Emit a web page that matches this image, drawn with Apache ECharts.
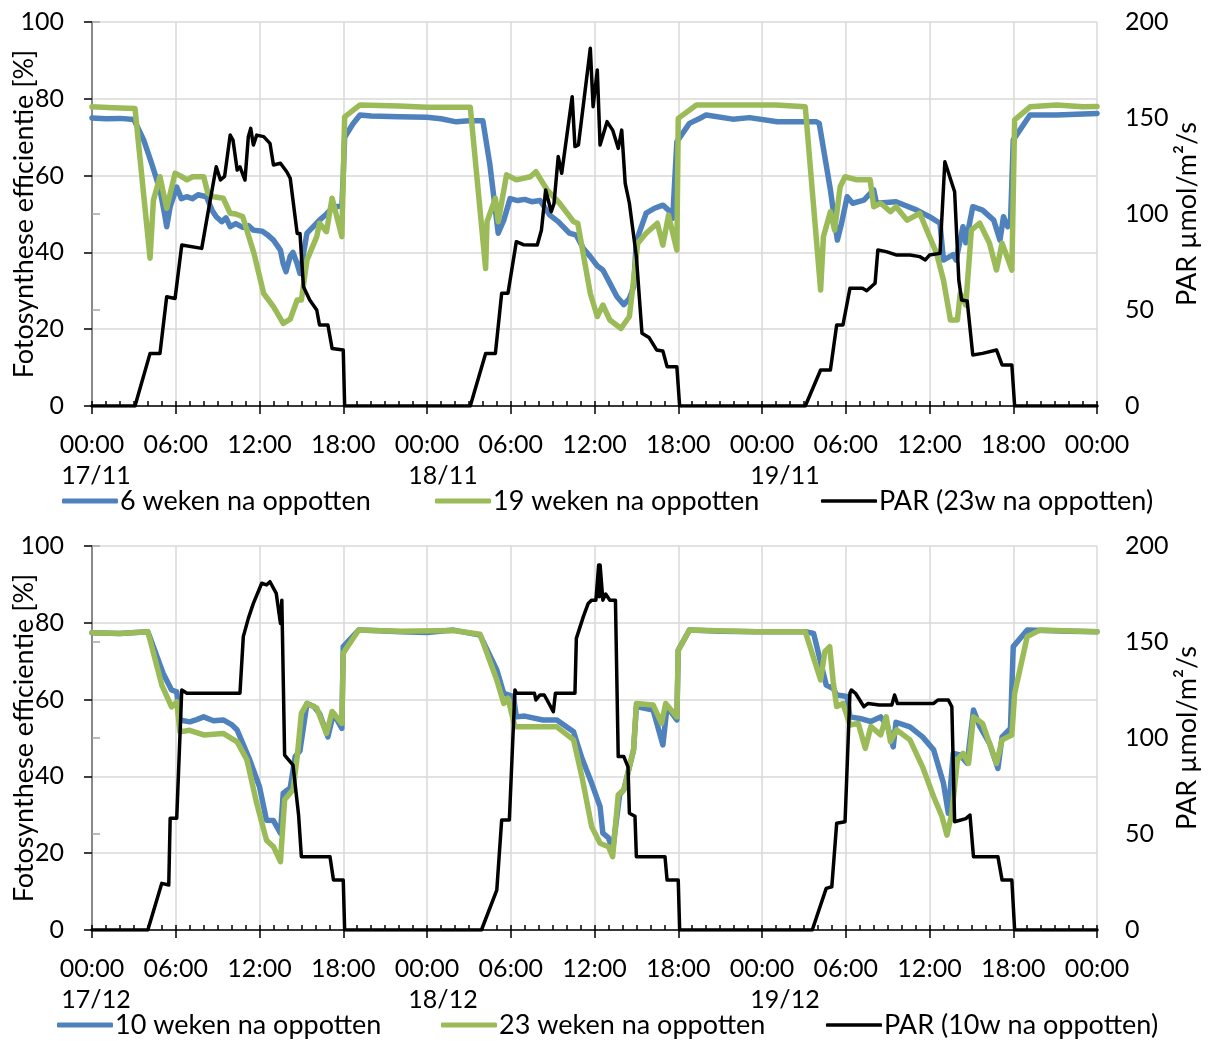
<!DOCTYPE html>
<html><head><meta charset="utf-8">
<script src="https://cdn.jsdelivr.net/npm/echarts@6/dist/echarts.min.js"></script>
<style>html,body{margin:0;padding:0;background:#fff}#c{width:1211px;height:1041px}</style>
</head><body><div id="c"></div><script>
// ---- tick labels ----
const hourTicks = ['00:00', '06:00', '12:00', '18:00'];
const datesTop = ['17/11', '18/11', '19/11'];
const datesBottom = ['17/12', '18/12', '19/12'];
const leftAxisTitle = 'Fotosynthese efficientie [%]';
const rightAxisTitle = 'PAR µmol/m²/s';

// ---- series names ----
const namesTop = ['6 weken na oppotten', '19 weken na oppotten', 'PAR (23w na oppotten)'];
const namesBottom = ['10 weken na oppotten', '23 weken na oppotten', 'PAR (10w na oppotten)'];

// ---- data: [hour since 00:00 day 1, value] ----
const top6w = [[0,75],[1,74.8],[2,74.9],[3,74.6],[3.7,69.3],[4.27,63.2],[4.87,56.3],[5.2,50],[5.35,46.7],[5.6,51.9],[6.07,57],[6.4,54],[6.78,54.5],[7.2,54],[7.6,55],[8.2,54.5],[8.6,51],[8.9,49.3],[9.3,48],[9.6,49],[9.9,46.7],[10.3,47.5],[10.8,46.5],[11.2,47],[11.56,45.8],[12.2,45.5],[12.6,44.5],[13,43.2],[13.5,40.6],[13.7,37],[13.9,35],[14.2,39],[14.4,40],[14.7,37],[14.9,34.5],[15.4,45],[15.8,46.5],[16.3,48.4],[16.8,50],[17.3,51.9],[17.9,52],[18.0,60],[18.1,70],[18.7,73.5],[19.2,75.8],[20,75.5],[22,75.3],[24,75.2],[25,74.8],[26.1,74],[27,74.3],[28,74.3],[28.5,63],[29.1,45],[29.5,48.4],[29.95,54],[30.5,53.5],[31,53.8],[31.5,53.2],[32.1,53.5],[32.8,49.7],[33.4,48],[34.2,45],[34.7,44.5],[35.2,41],[35.7,38.9],[36.2,36.5],[36.6,35.4],[37.1,32],[37.6,28.5],[38.1,26.4],[38.5,28],[38.8,31],[39.0,43],[39.7,50.2],[40.3,51.5],[40.9,52.3],[41.3,51],[41.6,48.9],[41.9,68.8],[42.8,73.6],[43.6,75],[44,75.8],[45.9,74.7],[47.1,75.1],[49.1,74],[51.9,74],[52.1,73.6],[52.9,56.3],[53.4,43.2],[53.7,47.6],[54.1,54.5],[54.5,52.8],[55.3,53.6],[56,56.3],[56.2,52.8],[57.6,53.2],[59.1,51],[60,49.3],[60.75,47.6],[61,38],[61.7,39.4],[61.9,38],[62.4,46.7],[62.6,42.5],[63.1,51.9],[63.8,51],[64.6,48.4],[65.05,43.2],[65.3,49.3],[65.6,46.7],[65.8,47.5],[66.0,69.3],[67.2,75.8],[69.1,75.8],[72,76.2]];
const top19w = [[0,77.9],[1.5,77.7],[3.08,77.5],[4.16,38.5],[4.4,53.6],[4.87,59.7],[5.35,51.5],[5.95,60.6],[6.4,59.8],[6.8,58.9],[7.2,59.7],[8,59.7],[8.3,55.4],[8.7,54.5],[9.4,54.1],[9.9,50.2],[10.3,50],[10.8,49.3],[11.6,39.8],[12.3,29.3],[13,25.9],[13.7,21.5],[14.2,22.6],[14.7,27.6],[15.0,27.6],[15.4,38],[16.1,44.1],[16.3,47.6],[16.8,45.4],[17.2,54.1],[17.9,44.1],[18.1,75.3],[19.2,78.4],[22,78.1],[24,77.8],[27.1,77.8],[28.2,35.8],[28.3,48],[28.9,54.1],[29.1,48],[29.7,60.2],[30.4,58.9],[31.4,59.7],[31.8,61],[32.6,56.3],[33.5,52.8],[34.5,48],[34.8,47.6],[35.7,29.3],[36.2,23.3],[36.6,26.3],[37.1,22.4],[37.9,20.2],[38.5,23.3],[39.1,42.4],[39.7,45],[40.5,47.6],[40.9,41.9],[41.3,49.7],[41.9,40.6],[42.0,74.9],[43.3,78.4],[49.0,78.4],[51.1,77.9],[52.2,30.2],[52.4,44.1],[52.9,50.6],[53.2,45.8],[53.6,57.1],[53.95,59.7],[54.8,58.9],[55.75,58.9],[56,51.9],[56.5,52.8],[57.2,50.6],[57.6,51.9],[58.4,48.4],[59.3,50.2],[60,44.1],[60.5,39.8],[61,32.8],[61.5,22.4],[62,22.4],[62.2,29.3],[62.6,26.3],[63.0,45.8],[63.6,47.6],[64.3,42.4],[64.8,35.4],[65.2,42.4],[65.9,35.4],[66.1,74.5],[67.2,77.9],[69.1,78.4],[71,77.9],[72,78]];
const topPar = [[0,0],[3.08,0],[4.16,27.4],[4.87,27.4],[5.35,56.9],[5.95,56],[6.43,83.9],[7.86,82.1],[8.3,100.3],[8.9,124.6],[9.2,117.7],[9.5,119.6],[9.9,141.1],[10.1,138.5],[10.4,122.9],[10.6,124.6],[10.96,117.7],[11.2,140.3],[11.37,144.6],[11.56,135.9],[11.8,141.1],[12.3,140.3],[12.75,136.8],[13,125.5],[13.5,126.4],[13.95,122],[14.2,118.6],[14.7,89.9],[14.9,89.9],[15.15,62.1],[15.6,55.2],[16.1,50],[16.3,42.2],[16.9,42.2],[17.2,30],[18.0,29.2],[18.1,0],[27.1,0],[28.2,27.4],[28.9,27.4],[29.35,58.7],[29.8,58.7],[30.4,85.6],[30.9,84],[31.9,83.9],[32.2,91.7],[32.5,112.5],[32.9,101.2],[33.1,105.5],[33.4,129.9],[33.65,121.2],[34.4,161.1],[34.6,135.1],[34.85,136],[35.7,186.3],[35.9,155.9],[36.2,175],[36.4,135.9],[36.9,148.1],[37.3,143.7],[37.7,134.2],[37.95,143.7],[38.2,116],[38.5,105.6],[39.0,77.8],[39.4,37.9],[39.9,35.7],[40.45,29.2],[40.9,28.6],[41.2,20.5],[41.9,20.5],[42.1,0],[51.1,0],[52.2,18.75],[52.9,18.75],[53.35,42.2],[53.8,42.2],[54.3,61.3],[55.2,61.3],[55.5,60],[56.1,63.9],[56.3,81.25],[56.9,80.4],[57.65,78.6],[58.6,78.6],[59.3,77.8],[59.7,76.1],[60,78.6],[60.75,79.5],[61.1,127.2],[61.8,111.6],[62.1,65.6],[62.3,55.2],[62.7,54.7],[63.1,26.6],[63.8,27.4],[64.8,29.2],[65.2,21.4],[65.9,21.4],[66.1,0],[72,0]];

const bot10w = [[0,77.4],[2,77.2],[4.0,77.7],[5.1,66.8],[5.7,62.5],[6.07,62],[6.3,54.7],[7.0,54.2],[7.5,54.8],[8.0,55.5],[8.7,54.5],[9.4,54.7],[10.0,53.5],[10.4,52.1],[10.8,48.6],[11.3,44.3],[12.0,37.3],[12.5,28.6],[13,28.5],[13.5,25.2],[13.7,35.6],[14.2,37],[14.55,45.1],[14.9,46.7],[15.4,59],[15.9,58.2],[16.3,56.4],[16.9,50.3],[17.3,56.4],[17.9,52.5],[18.0,73.8],[19.1,78.1],[20.6,77.9],[22.1,77.7],[24,77.5],[25.9,78.1],[27.8,76.8],[29,67.7],[29.5,61.6],[30.2,60.8],[30.4,55.5],[31,55.7],[32.3,54.7],[33.3,54.7],[34.5,51.6],[35.1,44.7],[35.8,38.2],[36.4,32.1],[36.6,25.2],[37.0,24],[37.3,20.8],[37.8,35.2],[38.1,36.5],[38.8,46.9],[39.0,58.2],[40.2,57.3],[40.9,48.2],[41.2,58.2],[41.9,54.7],[42.0,72.9],[42.8,78.1],[45,77.8],[47.6,77.7],[51.1,77.7],[51.7,77.2],[52.6,63.8],[53.1,62.9],[53.35,61.2],[54.1,60.8],[54.3,55.5],[55.0,55.1],[55.8,54.3],[56.5,55.5],[57,53],[57.4,47.7],[57.6,54.1],[58.6,52.9],[59.5,50.3],[60.3,46.9],[61.0,38.2],[61.35,30.4],[61.7,46],[62.2,45.6],[62.7,43.4],[63.15,57.3],[63.6,53],[64.3,48.6],[64.9,42.1],[65.2,50.3],[65.8,52.5],[66.0,73.8],[67.0,78.1],[70,77.8],[72,77.7]];
const bot23w = [[0,77.4],[2,77.2],[4.0,77.7],[5.0,63.8],[5.7,58.1],[6.07,59.4],[6.3,51.6],[7.0,52],[8,50.8],[9.4,51.2],[10.4,49],[11.1,44.3],[11.8,33],[12.5,23.4],[13,21.7],[13.5,17.8],[13.8,33.9],[14.4,36.5],[14.7,45.1],[15.0,56.4],[15.4,59],[16.1,57.8],[16.8,51.2],[17.2,56.9],[17.9,53.8],[18.0,72.1],[19.1,78.1],[22,77.8],[25.9,78],[27.8,77],[29,65.1],[29.5,59],[29.8,60.4],[30.3,52.9],[31.3,52.9],[33.3,52.9],[34.5,49.5],[35.1,39.9],[35.8,26.9],[36.4,22.6],[37,21.7],[37.3,19.1],[37.7,35.2],[38.1,36.5],[38.8,46.9],[39.0,59],[40.2,58.6],[40.8,53.8],[41.1,59],[41.9,55.5],[42.0,72.9],[42.8,78.1],[47.6,77.7],[51.1,77.7],[52.2,65.1],[52.5,72.5],[52.85,73.8],[53.1,64.7],[53.35,58.2],[53.8,59],[54.3,53.4],[54.9,53.8],[55.4,47.3],[55.8,53],[56.5,50.8],[56.9,55.5],[57.2,49.1],[57.65,52.1],[58.6,49.5],[59.5,42.5],[60.3,34.7],[60.9,29.5],[61.25,24.7],[61.6,30.4],[62.0,44.3],[62.4,46],[62.8,43.4],[63.15,55.5],[63.8,53.8],[64.8,43.4],[65.2,49.5],[65.9,50.8],[66.1,61.6],[67,76.4],[67.9,78.1],[72,77.7]];
const botPar = [[0,0],[4.0,0],[5.0,24.3],[5.5,23.4],[5.6,58.2],[6.07,58.2],[6.43,125],[6.8,123.3],[10.6,123.3],[10.84,152.8],[11.2,162.3],[11.56,170.1],[12.16,180.6],[12.5,179.7],[12.75,181.4],[13.2,175.3],[13.5,159.7],[13.6,171.8],[13.8,91.1],[14.4,85.9],[14.8,59.9],[15.0,38.2],[17.05,38.2],[17.3,26],[18.0,26],[18.1,0],[27.9,0],[29,20.8],[29.35,57.3],[29.9,57.3],[30.3,125],[30.4,123.3],[31.7,123.3],[31.8,119.8],[32.1,122.4],[32.4,122.4],[32.6,119.8],[33.05,113.7],[33.2,123.3],[34.6,123.3],[34.7,151.9],[35.2,163.2],[35.55,170.1],[35.8,171.8],[36.1,171.8],[36.3,190.1],[36.35,173.6],[36.4,190.1],[36.6,171.8],[36.8,175],[37.1,171.8],[37.5,171.8],[37.7,90.3],[38.1,90.3],[38.4,85],[38.5,60.8],[38.9,59.2],[39.0,38.2],[41.05,38.2],[41.2,26],[42.0,26],[42.1,0],[51.6,0],[52.6,21.7],[53,22.5],[53.35,55.6],[53.95,56.4],[54.3,123.3],[54.4,125],[54.7,123.3],[55.0,119.8],[55.3,116.3],[55.6,118],[56.4,117.2],[57.3,117.2],[57.5,122.4],[57.7,118],[60.3,118],[60.6,119.8],[61.35,119.8],[61.6,116.3],[61.8,56.4],[62.6,58],[62.9,59.9],[63.15,38.2],[64.9,38.2],[65.2,26],[65.9,26],[66.1,0],[72,0]];

// ---- styling ----
const FONT = 'Lato';
const FS_TICK = 25;   // numeric tick labels
const FS_TEXT = 27;   // titles and legend
const BLUE = '#4F81BD', GREEN = '#9BBB59', BLACK = '#000000';
const GRIDC = '#d9d9d9';
const dateShift = [8, 32, 46]; // label nudges (px padding)

function xLabelFormatter(dates) {
  return function (v) {
    const t = hourTicks[Math.round(v / 6) % 4];
    const d = Math.round(v / 24);
    if (Math.abs(v - d * 24) < 1e-6 && d < dates.length) {
      return '{t|' + t + '}\n{d' + d + '|' + dates[d] + '}';
    }
    return '{t|' + t + '}';
  };
}
function tokenStyle(pad) {
  return { fontSize: FS_TICK, fontFamily: FONT, color: '#000', lineHeight: 31, align: 'center', padding: [0, 0, 0, pad] };
}
const rich = { t: tokenStyle(0), d0: tokenStyle(dateShift[0]), d1: tokenStyle(dateShift[1]), d2: tokenStyle(dateShift[2]) };

const grids = [
  { left: 92, top: 22, width: 1005, height: 384, outerBoundsMode: 'none', containLabel: false },
  { left: 92, top: 546, width: 1005, height: 384, outerBoundsMode: 'none', containLabel: false }
];

function mainX(g, dates) {
  return {
    gridIndex: g, type: 'value', min: 0, max: 72, interval: 6, position: 'bottom',
    axisLine: { show: true, onZero: false, lineStyle: { color: '#000', width: 1.5 } },
    axisTick: { show: true, length: 8, lineStyle: { color: '#000', width: 1.5 } },
    axisLabel: { show: true, margin: 23, formatter: xLabelFormatter(dates), rich: rich, color: '#000', fontSize: FS_TICK, fontFamily: FONT },
    splitLine: { show: true, lineStyle: { color: GRIDC, width: 1.5 } }
  };
}
function minorX(g) {
  return {
    gridIndex: g, type: 'value', min: 0, max: 72, interval: 1, position: 'bottom',
    axisLine: { show: true, onZero: false, lineStyle: { color: '#000', opacity: 0 } },
    axisTick: { show: true, inside: true, length: 5, lineStyle: { color: '#000', width: 1.5 } },
    axisLabel: { show: false }, splitLine: { show: false }
  };
}
function leftY(g) {
  return {
    gridIndex: g, type: 'value', min: 0, max: 100, interval: 20, position: 'left',
    name: leftAxisTitle, nameLocation: 'middle', nameRotate: 90, nameGap: 54, nameMoveOverlap: false,
    nameTextStyle: { fontSize: FS_TEXT, fontFamily: FONT, color: '#000' },
    axisLine: { show: true, lineStyle: { color: '#000', width: 1.5 } },
    axisTick: { show: true, length: 8, lineStyle: { color: '#000', width: 1.5 } },
    axisLabel: { margin: 28, fontSize: FS_TICK, fontFamily: FONT, color: '#000' },
    splitLine: { show: true, lineStyle: { color: GRIDC, width: 1.5 } }
  };
}
function rightY(g) {
  return {
    gridIndex: g, type: 'value', min: 0, max: 200, interval: 50, position: 'right',
    name: rightAxisTitle, nameLocation: 'middle', nameRotate: 90, nameGap: 77, nameMoveOverlap: false,
    nameTextStyle: { fontSize: FS_TEXT, fontFamily: FONT, color: '#000' },
    axisLine: { show: true, lineStyle: { color: '#a6a6a6', width: 1.5 } },
    axisTick: { show: true, length: 8, lineStyle: { color: '#a6a6a6', width: 1.5 } },
    axisLabel: { margin: 28, fontSize: FS_TICK, fontFamily: FONT, color: '#000' },
    splitLine: { show: false }
  };
}
function lineSeries(name, data, xi, yi, color, width) {
  return {
    name: name, type: 'line', data: data, xAxisIndex: xi, yAxisIndex: yi,
    showSymbol: false, symbol: 'none', animation: false, silent: true,
    lineStyle: { color: color, width: width, cap: 'round', join: 'round' },
    itemStyle: { color: color }
  };
}
function legend(name, left, top, h) {
  return {
    data: [{ name: name, icon: 'roundRect' }], left: left, top: top,
    itemWidth: 56, itemHeight: h, itemGap: 0, selectedMode: false, padding: 0,
    textStyle: { fontSize: FS_TEXT, fontFamily: FONT, color: '#000', lineHeight: 30, padding: [0, 0, 0, -3] }
  };
}

const option = {
  animation: false,
  backgroundColor: '#fff',
  textStyle: { fontFamily: FONT },
  grid: grids,
  xAxis: [mainX(0, datesTop), minorX(0), mainX(1, datesBottom), minorX(1)],
  yAxis: [leftY(0), rightY(0), leftY(1), rightY(1)],
  legend: [
    legend(namesTop[0], 62, 486, 5), legend(namesTop[1], 435, 486, 5), legend(namesTop[2], 821, 486, 3.5),
    legend(namesBottom[0], 57, 1010, 5), legend(namesBottom[1], 441, 1010, 5), legend(namesBottom[2], 826, 1010, 3.5)
  ],
  series: [
    lineSeries(namesTop[0], top6w, 0, 0, BLUE, 5.5),
    lineSeries(namesTop[1], top19w, 0, 0, GREEN, 5.5),
    lineSeries(namesTop[2], topPar, 0, 1, BLACK, 3.5),
    lineSeries(namesBottom[0], bot10w, 2, 2, BLUE, 5.5),
    lineSeries(namesBottom[1], bot23w, 2, 2, GREEN, 5.5),
    lineSeries(namesBottom[2], botPar, 2, 3, BLACK, 3.5)
  ]
};
const chart = echarts.init(document.getElementById('c'), null, { renderer: 'canvas' });
chart.setOption(option);
</script></body></html>
